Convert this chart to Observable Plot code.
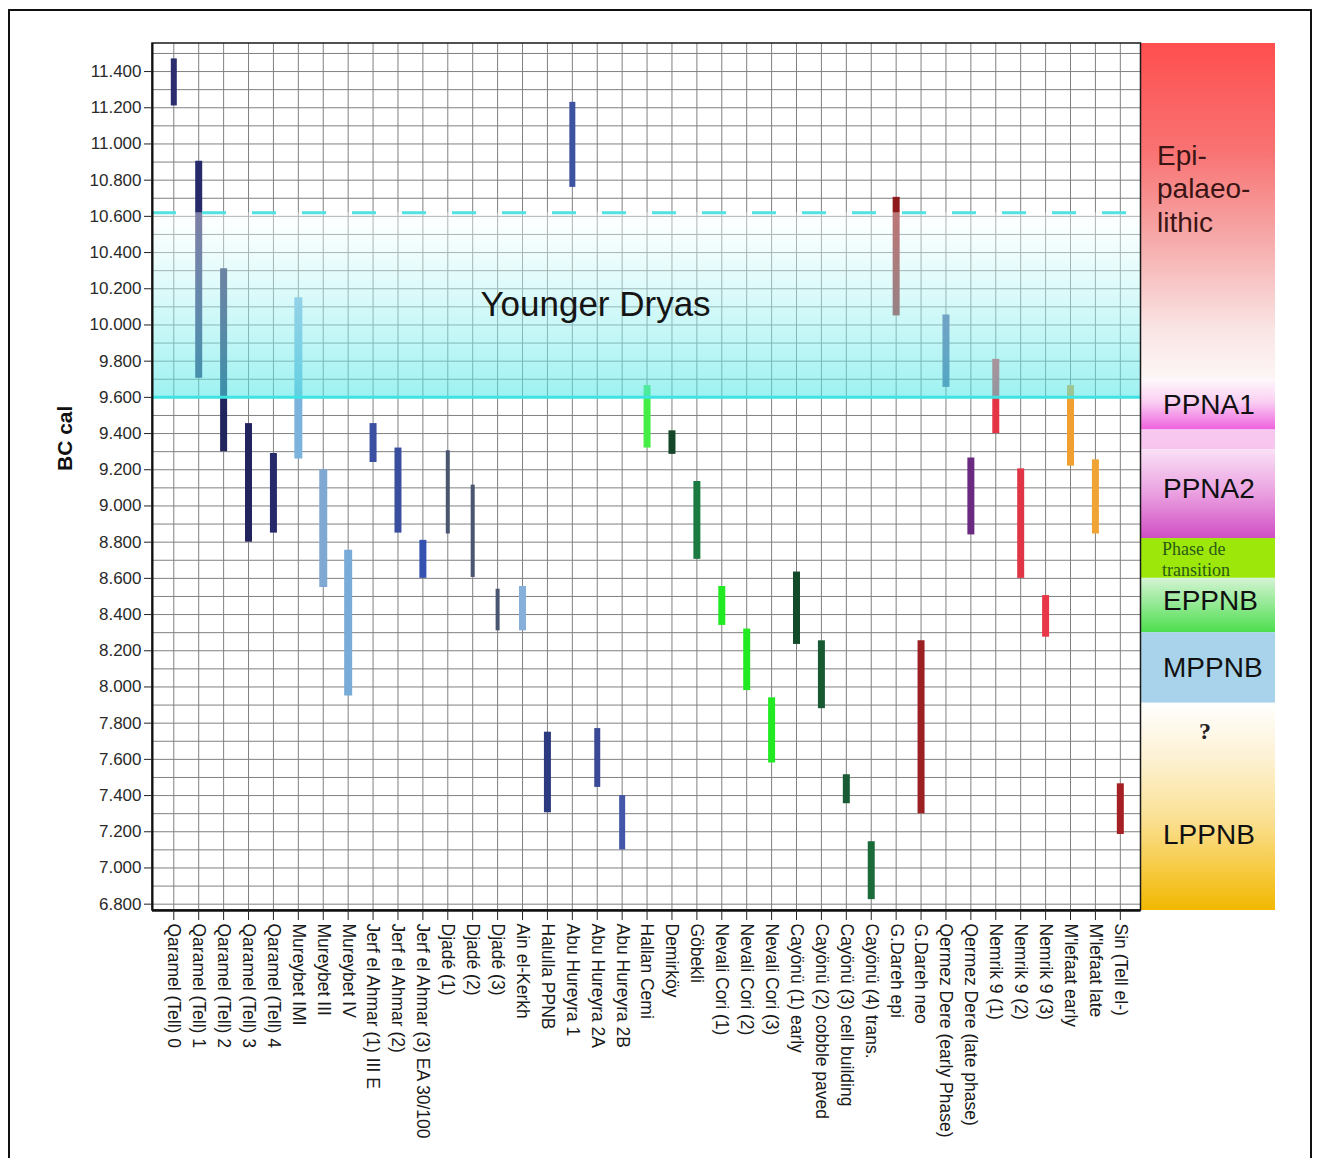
<!DOCTYPE html>
<html><head><meta charset="utf-8">
<script src="https://cdn.jsdelivr.net/npm/d3@7"></script>
<script src="https://cdn.jsdelivr.net/npm/@observablehq/plot@0.6"></script>
<style>
html,body{margin:0;padding:0;background:#fff;}
#wrap{position:relative;width:1333px;height:1158px;overflow:hidden;}
#border{position:absolute;left:8px;top:9px;width:1300px;height:1220px;border:2px solid #111;}
#chart{position:absolute;left:0;top:0;}
</style></head><body>
<div id="wrap"><div id="border"></div><div id="chart"></div></div>
<script>
// ---------- data ----------
const sites = ["Qaramel (Tell) 0","Qaramel (Tell) 1","Qaramel (Tell) 2","Qaramel (Tell) 3","Qaramel (Tell) 4",
  "Mureybet IMI","Mureybet III","Mureybet IV","Jerf el Ahmar (1) III E","Jerf el Ahmar (2)","Jerf el Ahmar (3) EA 30/100",
  "Djadé (1)","Djadé (2)","Djadé (3)","Ain el-Kerkh","Halulla PPNB","Abu Hureyra 1","Abu Hureyra 2A","Abu Hureyra 2B",
  "Hallan Cemi","Demirköy","Göbekli","Nevali Cori (1)","Nevali Cori (2)","Nevali Cori (3)",
  "Cayönü (1) early","Cayönü (2) cobble paved","Cayönü (3) cell building","Cayönü (4) trans.",
  "G.Dareh epi","G.Dareh neo","Qermez Dere (early Phase)","Qermez Dere (late phase)",
  "Nemrik 9 (1)","Nemrik 9 (2)","Nemrik 9 (3)","M'lefaat early","M'lefaat late","Sin (Tell el-)"];
const olderBC   = [11470,10905,10310,9455,9290,10150,9200,8755,9455,9320,8810,9305,9115,8540,8555,7750,11230,7770,7400,
  9665,9415,9135,8555,8320,7940,8635,8255,7515,7145,10705,8255,10055,9265,9810,9205,8505,9665,9255,7465];
const youngerBC = [11210,9705,9300,8800,8850,9260,8550,7950,9240,8850,8600,8845,8605,8310,8310,7305,10760,7445,7100,
  9320,9285,8705,8340,7980,7580,8235,7880,7355,6825,10050,7300,9655,8840,9400,8600,8275,9220,8845,7185];
const yTicks = [6800,7000,7200,7400,7600,7800,8000,8200,8400,8600,8800,9000,9200,9400,9600,9800,10000,10200,10400,10600,10800,11000,11200,11400];
const youngerDryas = [9600, 10620];
const phaseLabels = ["Epi-\npalaeo-\nlithic","PPNA1","","PPNA2","Phase de\ntransition","EPPNB","MPPNB","?","LPPNB"];
const phaseFrom = [11555, 9700, 9420, 9310, 8820, 8600, 8300, 7910, 7600];
const phaseTo   = [9700, 9420, 9310, 8820, 8600, 8300, 7910, 7600, 6765];

// ---------- styles ----------
const barColors = ["#2b2d6e","#262a6a","#22265e","#23245e","#26296a","#7bb3dc","#7fa9d3","#79abd8","#3b4fa3","#3a4ea0","#3552b0",
  "#4a5570","#4a5570","#4a5570","#86b0da","#2c3a80","#3e52a2","#3a4a96","#4257a8",
  "#44ee44","#16462a","#1b7a42","#22ea22","#22ea22","#22ea22","#134a2a","#175a32","#1a5a34","#1b6a3a",
  "#8e1a1c","#9a2022","#4a5a9a","#6a2a82","#e53545","#e03545","#e83848","#f0a030","#f0a435","#a52025"];
const barWidths = sites.map((s,i) => i===0?6 : (i>=5&&i<=7)?8 : (i>=11&&i<=13)?4 : (i>=16&&i<=18)?6 : 7);
const phaseGrad = [
  [[0,"#ff4f4f"],[0.32,"#f97272"],[0.55,"#f6a2a2"],[0.85,"#fae4e4"],[1,"#fdf6f6"]],
  [[0,"#fff8fc"],[0.45,"#fad0f2"],[1,"#ef62de"]],
  [[0,"#f8c8ef"],[1,"#f7c4ee"]],
  [[0,"#fae0f6"],[0.5,"#eaa0e0"],[1,"#d04ec4"]],
  [[0,"#9de80a"],[1,"#9de80a"]],
  [[0,"#d4f4d4"],[1,"#4ede4e"]],
  [[0,"#a9d3ea"],[1,"#a9d3ea"]],
  [[0,"#ffffff"],[1,"#fdf1d2"]],
  [[0,"#fdf1d2"],[0.4,"#fbe093"],[1,"#f2b800"]]
];
const SANS = '"Liberation Sans", Arial, Helvetica, sans-serif';
const SERIF = '"Liberation Serif", "Times New Roman", serif';

// ---------- scales ----------
const X0 = -0.855, X1 = 38.83, X2 = 44.23;   // frame left, frame right, phase panel right
const Y0 = 6765, Y1 = 11555;
const idx = d3.range(sites.length);
const bars = idx.map(i => ({i, older: olderBC[i], younger: youngerBC[i]}));
const hundreds = d3.range(6800, 11600, 100);
const fmt = d3.formatLocale({decimal: ",", thousands: ".", grouping: [3], currency: ["", ""]}).format(",");

const defsMark = () => {
  const defs = d3.create("svg:defs");
  const yd = defs.append("linearGradient").attr("id","ydGrad").attr("x1",0).attr("y1",0).attr("x2",0).attr("y2",1);
  yd.append("stop").attr("offset",0).attr("stop-color","#ffffff").attr("stop-opacity",0.4);
  yd.append("stop").attr("offset",1).attr("stop-color","#4ee6e6").attr("stop-opacity",0.55);
  phaseGrad.forEach((stops,k) => {
    const g = defs.append("linearGradient").attr("id","ph"+k).attr("x1",0).attr("y1",0).attr("x2",0).attr("y2",1);
    stops.forEach(([o,c]) => g.append("stop").attr("offset",o).attr("stop-color",c));
  });
  return defs.node();
};

const phaseIdx = d3.range(phaseLabels.length);
const mid = k => (phaseFrom[k] + phaseTo[k]) / 2;
const sansLabel = (ks, dy) => Plot.text(ks, {x: X1, y: mid, text: k => phaseLabels[k], textAnchor: "start", dx: 22, dy, fontSize: 28, fill: "#111"});

const plot = Plot.plot({
  width: 1333, height: 1158,
  marginLeft: 152, marginRight: 58, marginTop: 43, marginBottom: 248,
  x: {type: "linear", domain: [X0, X2]},
  y: {type: "linear", domain: [Y0, Y1]},
  color: {type: "identity"},
  style: {fontFamily: SANS, fontSize: "17px", color: "#222", background: "transparent", overflow: "visible"},
  marks: [
    defsMark,
    Plot.ruleY(hundreds, {y: d => d, x1: X0, x2: X1, stroke: "#808080", strokeWidth: 1}),
    Plot.ruleX(idx, {x: d => d, y1: Y0, y2: Y1, stroke: "#808080", strokeWidth: 1}),
    Plot.ruleX(bars, {x: "i", y1: "younger", y2: "older", stroke: d => barColors[d.i], strokeWidth: d => barWidths[d.i]}),
    Plot.rect([youngerDryas], {x1: X0, x2: X1, y1: d => d[0], y2: d => d[1], fill: "url(#ydGrad)"}),
    Plot.ruleY([youngerDryas[0]], {y: d => d, x1: X0, x2: X1, stroke: "#3fe3e3", strokeWidth: 3}),
    Plot.ruleY([youngerDryas[1]], {y: d => d, x1: X0, x2: X1, stroke: "#52e2e2", strokeWidth: 3, strokeDasharray: "24,26"}),
    ...phaseIdx.map(k => Plot.rect([k], {x1: X1, x2: X2, y1: k => phaseTo[k], y2: k => phaseFrom[k], fill: `url(#ph${k})`})),
    Plot.rect([0], {x1: X0, x2: X1, y1: Y0, y2: Y1, fill: "none", stroke: "#1a1a1a", strokeWidth: 1.5}),
    Plot.ruleY([Y0], {y: d => d, x1: X0, x2: X1, stroke: "#111", strokeWidth: 2.5}),
    Plot.ruleX([X0], {x: d => d, y1: Y0, y2: Y1, stroke: "#111", strokeWidth: 2}),
    Plot.axisY(yTicks, {anchor: "left", tickFormat: fmt, tickSize: 8, tickPadding: 3, fontSize: 17, label: null, fill: "#2a2a2a"}),
    Plot.axisX(idx, {anchor: "bottom", tickFormat: i => sites[i], tickRotate: 90, tickSize: 10, tickPadding: 3, fontSize: 17.5, label: null, fill: "#1a1a1a"}),
    Plot.text(["BC cal"], {frameAnchor: "left", dx: -87, dy: -6, rotate: -90, fontSize: 21, fontWeight: "bold", fill: "#111"}),
    Plot.text(["Younger Dryas"], {x: 16.93, y: (youngerDryas[0] + youngerDryas[1]) / 2, fontSize: 35, fill: "#151515"}),
    // phase labels
    Plot.text([0], {x: X1, y: mid, text: k => phaseLabels[k], textAnchor: "start", dx: 16, dy: -24, fontSize: 28, lineHeight: 1.2, fill: "#3b1414"}),
    sansLabel([1,6,8], 0),
    sansLabel([3], -5),
    sansLabel([5], -4),
    Plot.text([4], {x: X1, y: mid, text: k => phaseLabels[k], textAnchor: "start", dx: 21, fontSize: 18, lineHeight: 1.17, fontFamily: SERIF, fill: "#2b5a16"}),
    Plot.text([7], {x: X1, y: mid, text: k => phaseLabels[k], textAnchor: "middle", dx: 64, fontSize: 24, fontFamily: SERIF, fontWeight: "bold", fill: "#222"})
  ]
});
document.getElementById("chart").appendChild(plot);
</script></body></html>
